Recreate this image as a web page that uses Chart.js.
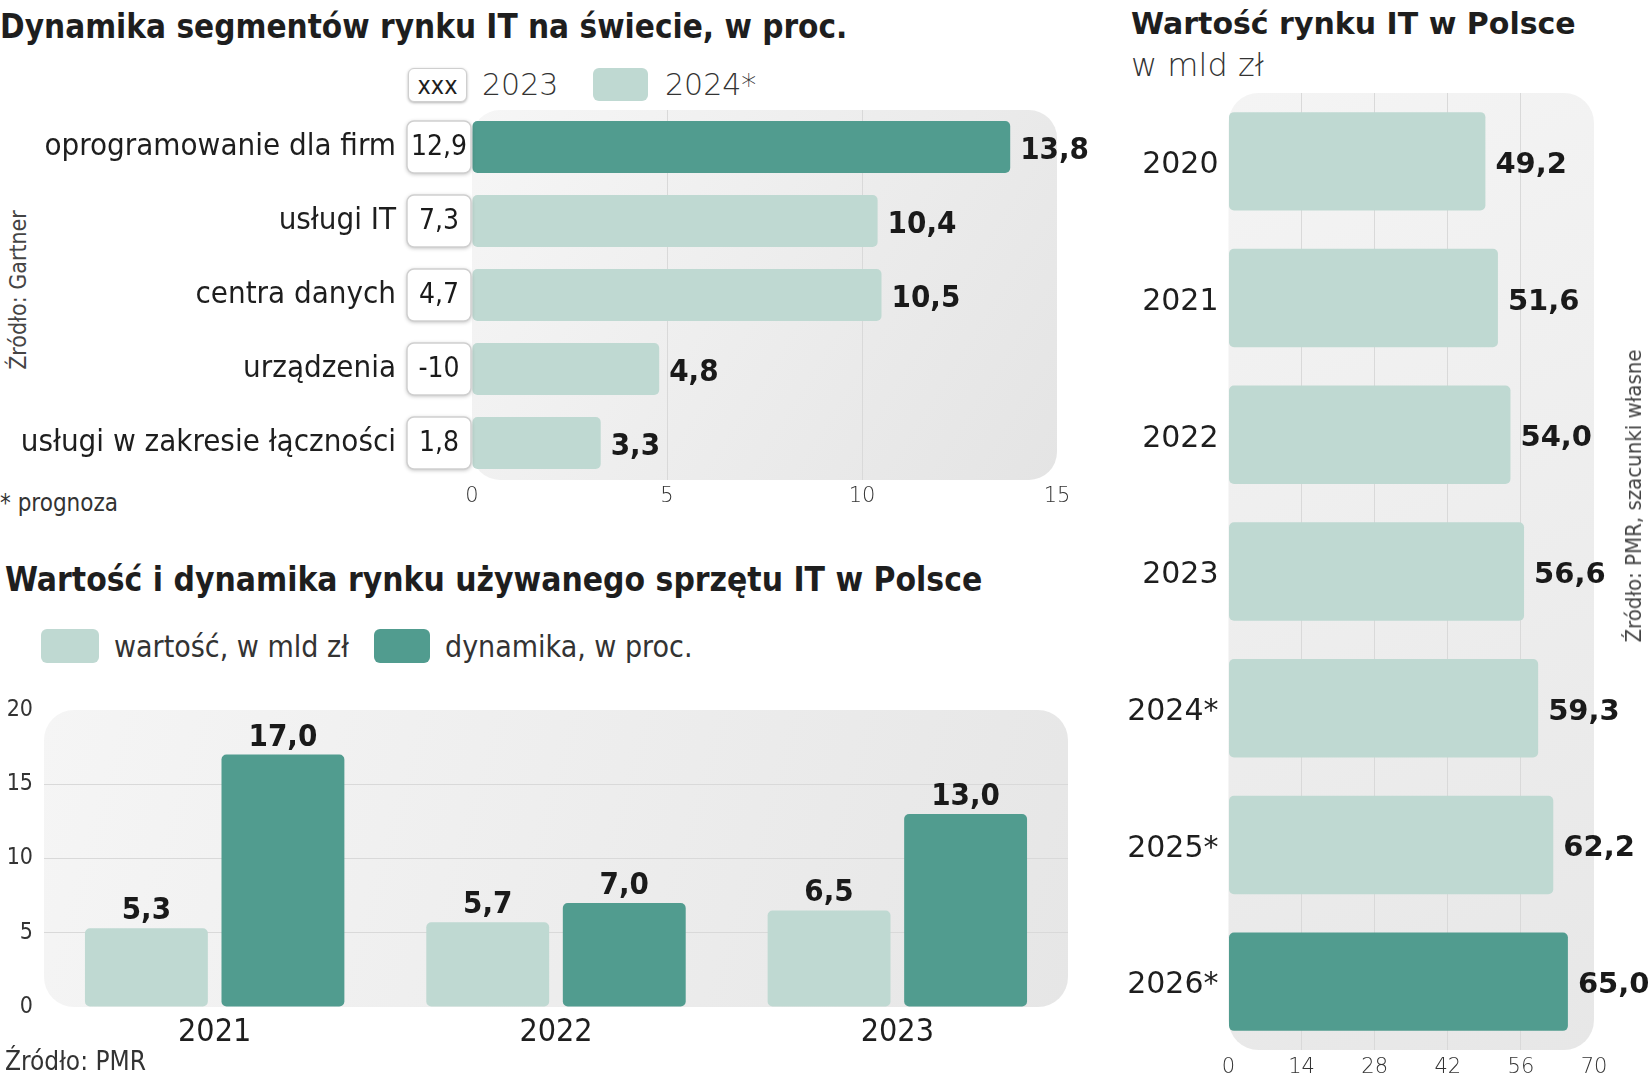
<!DOCTYPE html>
<html lang="pl">
<head>
<meta charset="utf-8">
<title>Rynek IT</title>
<script src="https://cdn.jsdelivr.net/npm/chart.js@4.4.1/dist/chart.umd.min.js"></script>
<style>
  html, body { margin: 0; padding: 0; background: #fff; }
  body { width: 1652px; height: 1080px; position: relative; overflow: hidden; color: #1e1e1e; }
  .abs { position: absolute; white-space: nowrap; line-height: 1; }
  .cond { font-family: "DejaVu Sans Condensed", "Liberation Sans Narrow", sans-serif; }
  .wide { font-family: "DejaVu Sans", sans-serif; }
  .sw { position: absolute; border-radius: 6px; }
  .rot { transform: translate(-50%, -50%) rotate(-90deg); }
  .wrap { position: absolute; }
  .chip { position: absolute; box-sizing: border-box; background: #fff; border: 1.5px solid #cfcfcf;
          border-radius: 6px; box-shadow: 0 1px 3px rgba(0,0,0,.3); display: flex;
          align-items: center; justify-content: center; font-size: 25px; }
</style>
</head>
<body>

<!-- top-left: segmenty rynku IT -->
<div class="abs cond" style="left:0;top:10px;font-size:33px;font-weight:bold;">Dynamika segmentów rynku IT na świecie, w proc.</div>
<div class="chip cond" style="left:408px;top:68px;width:59px;height:34px;">xxx</div>
<div class="abs wide" style="left:482px;top:70px;font-size:30px;font-weight:200;color:#333;">2023</div>
<div class="sw" style="left:593px;top:68px;width:55px;height:33px;background:#bfd9d2;"></div>
<div class="abs wide" style="left:665px;top:70px;font-size:30px;font-weight:200;color:#333;">2024*</div>
<div class="abs cond rot" style="left:18px;top:290px;font-size:23px;color:#444;">Źródło: Gartner</div>
<div class="abs cond" style="left:0;top:491px;font-size:24px;color:#333;">* prognoza</div>
<div class="wrap" style="left:0;top:80px;width:1110px;height:430px;"><canvas id="segChart"></canvas></div>

<!-- bottom-left: rynek używanego sprzętu -->
<div class="abs cond" style="left:5px;top:563px;font-size:33.3px;font-weight:bold;">Wartość i dynamika rynku używanego sprzętu IT w Polsce</div>
<div class="sw" style="left:41px;top:629px;width:58px;height:34px;background:#bfd9d2;"></div>
<div class="abs cond" style="left:114px;top:632px;font-size:30px;color:#333;">wartość, w mld zł</div>
<div class="sw" style="left:374px;top:629px;width:56px;height:34px;background:#519c8f;"></div>
<div class="abs cond" style="left:445px;top:632px;font-size:30px;color:#333;">dynamika, w proc.</div>
<div class="wrap" style="left:0;top:680px;width:1090px;height:380px;"><canvas id="usedChart"></canvas></div>
<div class="abs cond" style="left:5px;top:1048px;font-size:26px;color:#333;">Źródło: PMR</div>

<!-- right: wartość rynku IT -->
<div class="abs wide" style="left:1131px;top:9px;font-size:30px;font-weight:bold;">Wartość rynku IT w Polsce</div>
<div class="abs wide" style="left:1131px;top:49px;font-size:32px;font-weight:200;color:#333;">w mld zł</div>
<div class="wrap" style="left:1060px;top:63px;width:592px;height:1017px;"><canvas id="marketChart"></canvas></div>
<div class="abs cond rot" style="left:1634px;top:496px;font-size:22px;color:#444;">Źródło: PMR, szacunki własne</div>

<script>
// Dynamika segmentów rynku IT na świecie
const segments = ['oprogramowanie dla firm', 'usługi IT', 'centra danych', 'urządzenia', 'usługi w zakresie łączności'];
const growth2023 = [12.9, 7.3, 4.7, -10, 1.8];
const growth2024 = [13.8, 10.4, 10.5, 4.8, 3.3];
const segmentTicks = [0, 5, 10, 15];

// Rynek używanego sprzętu IT
const usedYears = ['2021', '2022', '2023'];
const usedValue = [5.3, 5.7, 6.5];
const usedGrowth = [17.0, 7.0, 13.0];
const usedTicks = [0, 5, 10, 15, 20];

// Wartość rynku IT w Polsce
const marketYears = ['2020', '2021', '2022', '2023', '2024*', '2025*', '2026*'];
const marketValue = [49.2, 51.6, 54.0, 56.6, 59.3, 62.2, 65.0];
const marketTicks = [0, 14, 28, 42, 56, 70];

const LIGHT = '#bfd9d2';
const DARK = '#519c8f';
const COND = '"DejaVu Sans Condensed", "Liberation Sans Narrow", sans-serif';
const WIDE = '"DejaVu Sans", sans-serif';

function fmt1(v) { return v.toFixed(1).replace('.', ','); }
function fmtShort(v) { return Number.isInteger(v) ? String(v) : fmt1(v); }
function useTicks(list) { return s => { s.ticks = list.map(v => ({ value: v })); }; }
function innerGrid(min, max) {
  return c => (c.tick && c.tick.value > min && c.tick.value < max) ? '#d9d9d9' : 'rgba(0,0,0,0)';
}
// fixed axis width, and no extra label padding pushing the plot inwards
function fixWidth(w) {
  return s => { s.width = w; s.paddingTop = 0; s.paddingBottom = 0; };
}

// grey rounded panel behind the plot
const plotBg = {
  id: 'plotBg',
  beforeDraw(chart, args, opts) {
    const { ctx, chartArea: a } = chart;
    ctx.save();
    const g = ctx.createLinearGradient(a.left, a.top, a.right, a.bottom);
    g.addColorStop(0, opts.from);
    g.addColorStop(1, opts.to);
    ctx.fillStyle = g;
    ctx.beginPath();
    ctx.roundRect(a.left, a.top, a.right - a.left, a.bottom - a.top, opts.radius);
    ctx.fill();
    ctx.restore();
  }
};

// numbers at the bar ends
const valueLabels = {
  id: 'valueLabels',
  afterDatasetsDraw(chart, args, opts) {
    const { ctx } = chart;
    const horizontal = chart.options.indexAxis === 'y';
    ctx.save();
    ctx.font = opts.font;
    ctx.fillStyle = '#1a1a1a';
    chart.data.datasets.forEach((ds, di) => {
      chart.getDatasetMeta(di).data.forEach((bar, i) => {
        const txt = fmt1(ds.data[i]);
        if (horizontal) {
          ctx.textAlign = 'left';
          ctx.textBaseline = 'middle';
          ctx.fillText(txt, bar.x + opts.offset, bar.y + (opts.dy || 0));
        } else {
          ctx.textAlign = 'center';
          ctx.textBaseline = 'alphabetic';
          ctx.fillText(txt, bar.x, bar.y - opts.offset);
        }
      });
    });
    ctx.restore();
  }
};

// white chips with the 2023 values
const prevYearBoxes = {
  id: 'prevYearBoxes',
  afterDatasetsDraw(chart, args, opts) {
    const { ctx, chartArea: a, scales } = chart;
    ctx.save();
    opts.values.forEach((v, i) => {
      const y = scales.y.getPixelForValue(i);
      const w = 64, h = 52, x = a.left - 65;
      ctx.shadowColor = 'rgba(0,0,0,0.3)';
      ctx.shadowBlur = 4;
      ctx.shadowOffsetY = 1;
      ctx.fillStyle = '#fff';
      ctx.beginPath();
      ctx.roundRect(x, y - h / 2, w, h, 7);
      ctx.fill();
      ctx.shadowColor = 'rgba(0,0,0,0)';
      ctx.strokeStyle = '#cfcfcf';
      ctx.lineWidth = 1.5;
      ctx.stroke();
      ctx.fillStyle = '#1a1a1a';
      ctx.font = '28px ' + COND;
      ctx.textAlign = 'center';
      ctx.textBaseline = 'middle';
      ctx.fillText(fmtShort(v), x + w / 2, y + 1);
    });
    ctx.restore();
  }
};

Chart.defaults.animation = false;
Chart.defaults.plugins.legend.display = false;
Chart.defaults.plugins.tooltip.enabled = false;

const segChart = new Chart(document.getElementById('segChart'), {
  type: 'bar',
  data: {
    labels: segments,
    datasets: [{
      data: growth2024,
      backgroundColor: segments.map((s, i) => i === 0 ? DARK : LIGHT),
      borderRadius: 5,
      borderSkipped: false,
      barPercentage: 0.7,
      categoryPercentage: 1
    }]
  },
  options: {
    indexAxis: 'y',
    responsive: true,
    maintainAspectRatio: false,
    layout: { padding: { top: 30, right: 53, left: 0, bottom: 0 } },
    plugins: {
      plotBg: { from: '#f6f6f6', to: '#e4e4e4', radius: 28 },
      valueLabels: { font: 'bold 31px ' + COND, offset: 10, dy: 4 },
      prevYearBoxes: { values: growth2023 }
    },
    scales: {
      x: {
        min: 0, max: 15,
        afterBuildTicks: useTicks(segmentTicks),
        afterFit: s => { s.height = 30; },
        grid: { color: innerGrid(0, 15), drawTicks: false },
        border: { display: false },
        ticks: { padding: 4, color: '#333', font: { family: WIDE, size: 21, weight: 200 } }
      },
      y: {
        afterFit: fixWidth(472),
        grid: { display: false, drawTicks: false },
        border: { display: false },
        ticks: { padding: 76, color: '#1e1e1e', font: { family: COND, size: 31 } }
      }
    }
  },
  plugins: [plotBg, valueLabels, prevYearBoxes]
});

const usedChart = new Chart(document.getElementById('usedChart'), {
  type: 'bar',
  data: {
    labels: usedYears,
    datasets: [
      { label: 'wartość, w mld zł', data: usedValue, backgroundColor: LIGHT, borderRadius: 5, borderSkipped: false },
      { label: 'dynamika, w proc.', data: usedGrowth, backgroundColor: DARK, borderRadius: 5, borderSkipped: false }
    ]
  },
  options: {
    responsive: true,
    maintainAspectRatio: false,
    layout: { padding: { top: 30, right: 22, left: 0, bottom: 0 } },
    plugins: {
      plotBg: { from: '#f5f5f5', to: '#e6e6e6', radius: 30 },
      valueLabels: { font: 'bold 31px ' + COND, offset: 9 }
    },
    scales: {
      x: {
        afterFit: s => { s.height = 53; },
        grid: { display: false, drawTicks: false },
        border: { display: false },
        ticks: { padding: 6, color: '#1e1e1e', font: { family: COND, size: 32 } }
      },
      y: {
        min: 0, max: 20,
        afterBuildTicks: useTicks(usedTicks),
        afterFit: fixWidth(44),
        grid: { color: innerGrid(0, 20), drawTicks: false },
        border: { display: false },
        ticks: { padding: 11, color: '#333', font: { family: COND, size: 23 } }
      }
    }
  },
  plugins: [plotBg, valueLabels]
});

const marketChart = new Chart(document.getElementById('marketChart'), {
  type: 'bar',
  data: {
    labels: marketYears,
    datasets: [{
      data: marketValue,
      backgroundColor: marketYears.map((s, i) => i === marketYears.length - 1 ? DARK : LIGHT),
      borderRadius: 5,
      borderSkipped: false,
      barPercentage: 0.72,
      categoryPercentage: 1
    }]
  },
  options: {
    indexAxis: 'y',
    responsive: true,
    maintainAspectRatio: false,
    layout: { padding: { top: 30, right: 58, left: 0, bottom: 0 } },
    plugins: {
      plotBg: { from: '#f4f4f4', to: '#e7e7e7', radius: 30 },
      valueLabels: { font: 'bold 29px ' + WIDE, offset: 10, dy: 4 }
    },
    scales: {
      x: {
        min: 0, max: 70,
        afterBuildTicks: useTicks(marketTicks),
        afterFit: s => { s.height = 30; },
        grid: { color: innerGrid(0, 70), drawTicks: false },
        border: { display: false },
        ticks: { padding: 5, color: '#333', font: { family: WIDE, size: 21, weight: 200 } }
      },
      y: {
        afterFit: fixWidth(168.5),
        grid: { display: false, drawTicks: false },
        border: { display: false },
        ticks: { padding: 10, labelOffset: 4, color: '#1e1e1e', font: { family: WIDE, size: 30 } }
      }
    }
  },
  plugins: [plotBg, valueLabels]
});
</script>
</body>
</html>
